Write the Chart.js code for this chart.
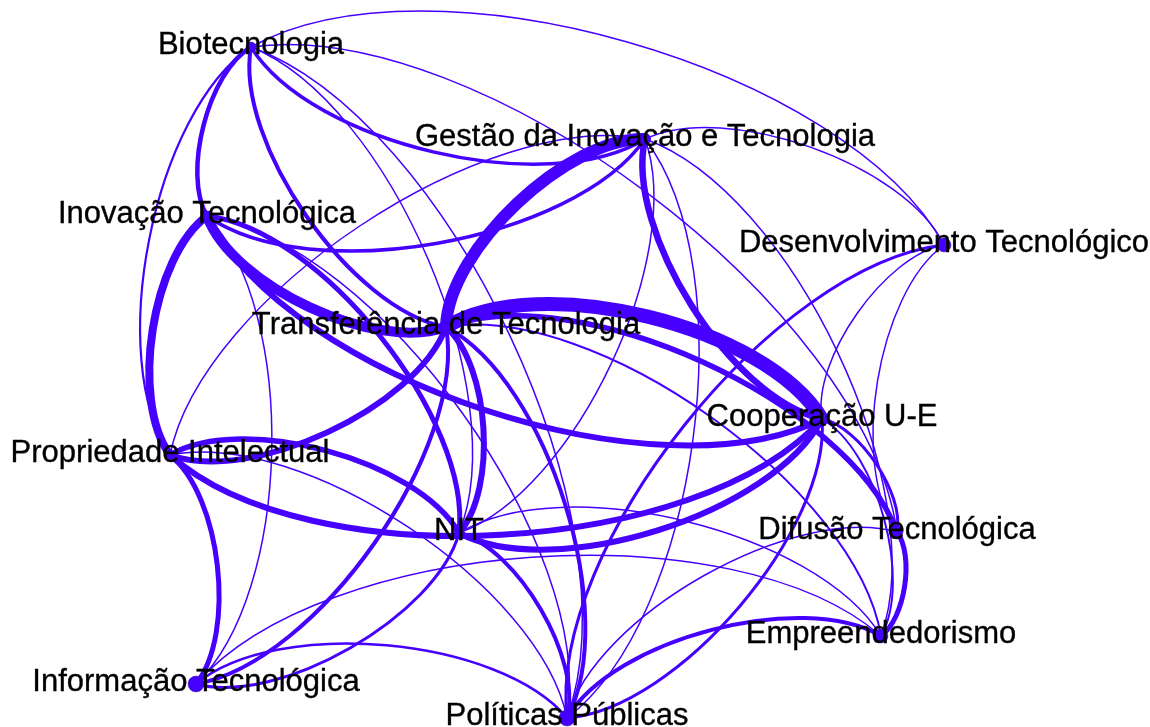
<!DOCTYPE html>
<html>
<head>
<meta charset="utf-8">
<title>Rede de palavras-chave</title>
<script src="https://cdn.jsdelivr.net/npm/chart.js@4.4.1/dist/chart.umd.min.js"></script>
<style>
  html, body { margin: 0; padding: 0; background: #ffffff; }
  #wrap { width: 1150px; height: 727px; }
</style>
</head>
<body>
<div id="wrap"><canvas id="net"></canvas></div>
<script>
// Nodes (layout position, y grows downward)
const nodeLabels = [
  'Biotecnologia', 'Gestão da Inovação e Tecnologia', 'Inovação Tecnológica',
  'Desenvolvimento Tecnológico', 'Transferência de Tecnologia', 'Cooperação U-E',
  'Propriedade Intelectual', 'NIT', 'Difusão Tecnológica', 'Empreendedorismo',
  'Informação Tecnológica', 'Políticas Públicas'
];
const nodeX = [251, 645, 207, 944, 446, 822, 170, 459, 897, 881, 196, 567];
const nodeY = [47, 139, 216, 245, 327, 419, 455, 533, 532, 636, 684, 718];
const nodeSize = [5, 5, 5, 7, 5, 5, 5, 5, 6, 7, 8, 8];

// Edges (source -> target, the order sets the side of the curve) and weights
const edgeSource = [
  'Biotecnologia', 'Gestão da Inovação e Tecnologia', 'Biotecnologia',
  'Gestão da Inovação e Tecnologia', 'Inovação Tecnológica', 'Propriedade Intelectual',
  'Transferência de Tecnologia', 'Biotecnologia', 'Biotecnologia',
  'Transferência de Tecnologia', 'Cooperação U-E', 'Gestão da Inovação e Tecnologia',
  'Propriedade Intelectual', 'Gestão da Inovação e Tecnologia', 'Gestão da Inovação e Tecnologia',
  'Gestão da Inovação e Tecnologia', 'Transferência de Tecnologia', 'Cooperação U-E',
  'Cooperação U-E', 'Cooperação U-E', 'Transferência de Tecnologia',
  'Difusão Tecnológica', 'Propriedade Intelectual', 'Transferência de Tecnologia',
  'Inovação Tecnológica', 'Transferência de Tecnologia', 'Transferência de Tecnologia',
  'Propriedade Intelectual', 'Transferência de Tecnologia', 'Transferência de Tecnologia',
  'Cooperação U-E', 'NIT', 'Políticas Públicas',
  'Propriedade Intelectual', 'Informação Tecnológica', 'NIT',
  'Informação Tecnológica', 'Políticas Públicas', 'Propriedade Intelectual',
  'Inovação Tecnológica', 'Inovação Tecnológica', 'NIT',
  'Políticas Públicas', 'Cooperação U-E', 'Cooperação U-E',
  'Difusão Tecnológica', 'Cooperação U-E', 'Transferência de Tecnologia'
];
const edgeTarget = [
  'Desenvolvimento Tecnológico', 'Desenvolvimento Tecnológico', 'Difusão Tecnológica',
  'Biotecnologia', 'Biotecnologia', 'Biotecnologia',
  'Biotecnologia', 'NIT', 'Políticas Públicas',
  'Gestão da Inovação e Tecnologia', 'Gestão da Inovação e Tecnologia', 'Inovação Tecnológica',
  'Gestão da Inovação e Tecnologia', 'Políticas Públicas', 'NIT',
  'Empreendedorismo', 'Cooperação U-E', 'Inovação Tecnológica',
  'Propriedade Intelectual', 'NIT', 'Difusão Tecnológica',
  'Empreendedorismo', 'Inovação Tecnológica', 'Inovação Tecnológica',
  'NIT', 'NIT', 'Propriedade Intelectual',
  'NIT', 'Informação Tecnológica', 'Políticas Públicas',
  'Políticas Públicas', 'Políticas Públicas', 'Empreendedorismo',
  'Informação Tecnológica', 'Políticas Públicas', 'Informação Tecnológica',
  'Empreendedorismo', 'Desenvolvimento Tecnológico', 'Políticas Públicas',
  'Informação Tecnológica', 'Políticas Públicas', 'Empreendedorismo',
  'Difusão Tecnológica', 'Difusão Tecnológica', 'Empreendedorismo',
  'Desenvolvimento Tecnológico', 'Desenvolvimento Tecnológico', 'Empreendedorismo'
];
const edgeWeight = [
  1.5, 1.5, 1.5,
  3.5, 4.5, 2.2,
  4, 1.5, 1.5,
  12, 6.5, 3.5,
  1.5, 1.5, 1.5,
  1.5, 14, 6,
  6, 6, 5.5,
  5, 8, 10,
  5, 6, 6,
  5.5, 4, 4,
  3, 4, 4,
  5, 2.5, 3,
  1.5, 3, 1.5,
  1.5, 1.5, 1.5,
  1.5, 3, 2,
  1.5, 1.5, 2
];

const EDGE_COLOR = '#4600ff';
const CURVENESS = 0.2;

// curved edges drawn under the nodes, using the chart scales
const curvedEdges = {
  id: 'curvedEdges',
  beforeDatasetsDraw(chart) {
    const ctx = chart.ctx;
    const xs = chart.scales.x, ys = chart.scales.y;
    ctx.save();
    ctx.strokeStyle = EDGE_COLOR;
    ctx.lineCap = 'round';
    edgeSource.forEach((src, i) => {
      const a = nodeLabels.indexOf(src);
      const b = nodeLabels.indexOf(edgeTarget[i]);
      const x1 = xs.getPixelForValue(nodeX[a]), y1 = ys.getPixelForValue(nodeY[a]);
      const x2 = xs.getPixelForValue(nodeX[b]), y2 = ys.getPixelForValue(nodeY[b]);
      const dx = x2 - x1, dy = y2 - y1;
      const nx = dy * CURVENESS, ny = -dx * CURVENESS;
      ctx.beginPath();
      ctx.moveTo(x1, y1);
      ctx.bezierCurveTo(
        x1 + dx * CURVENESS + nx, y1 + dy * CURVENESS + ny,
        x2 - dx * CURVENESS + nx, y2 - dy * CURVENESS + ny,
        x2, y2
      );
      ctx.lineWidth = edgeWeight[i];
      ctx.stroke();
    });
    ctx.restore();
  },
  afterDatasetsDraw(chart) {
    const ctx = chart.ctx;
    const xs = chart.scales.x, ys = chart.scales.y;
    ctx.save();
    ctx.fillStyle = '#000000';
    ctx.strokeStyle = '#000000';
    ctx.lineWidth = 0.35;
    ctx.font = "31px 'Liberation Sans', Arial, sans-serif";
    ctx.textAlign = 'center';
    ctx.textBaseline = 'alphabetic';
    nodeLabels.forEach((name, i) => {
      const px = xs.getPixelForValue(nodeX[i]), py = ys.getPixelForValue(nodeY[i]) + 7;
      ctx.fillText(name, px, py);
      ctx.strokeText(name, px, py);
    });
    ctx.restore();
  }
};

new Chart(document.getElementById('net'), {
  type: 'scatter',
  data: {
    datasets: [{
      label: 'Palavras-chave',
      data: nodeX.map((v, i) => ({ x: v, y: nodeY[i] })),
      pointRadius: nodeSize,
      pointHoverRadius: nodeSize,
      pointBackgroundColor: EDGE_COLOR,
      pointBorderColor: 'rgba(40, 0, 140, 0.6)',
      pointBorderWidth: 0.6,
      clip: false
    }]
  },
  options: {
    responsive: true,
    maintainAspectRatio: false,
    animation: false,
    layout: { padding: 0, autoPadding: false },
    plugins: {
      legend: { display: false },
      tooltip: { enabled: false }
    },
    scales: {
      x: { type: 'linear', min: 0, max: 1150, display: false },
      y: { type: 'linear', min: 0, max: 727, reverse: true, display: false }
    }
  },
  plugins: [curvedEdges]
});
</script>
</body>
</html>
